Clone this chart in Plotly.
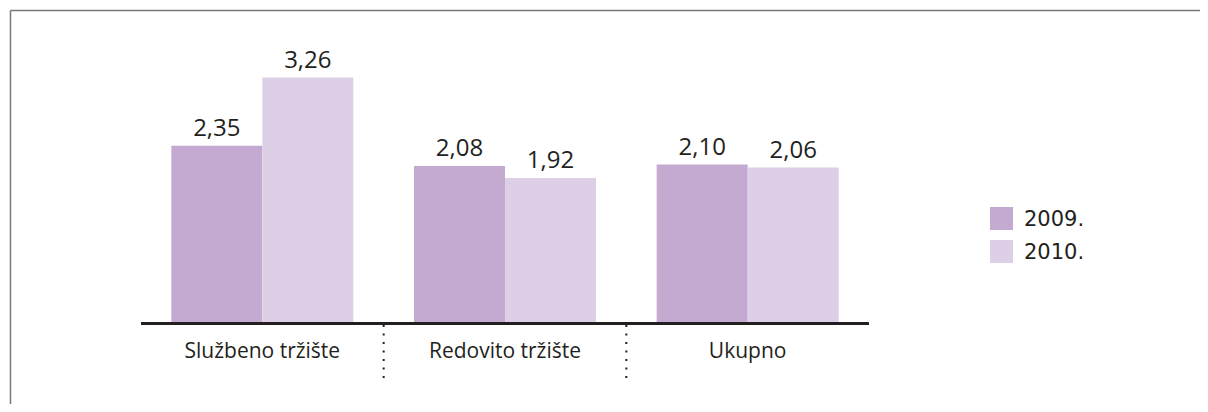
import plotly.graph_objects as go

categories = ["Službeno tržište", "Redovito tržište", "Ukupno"]
series_names = ["2009.", "2010."]
values_2009 = [2.35, 2.08, 2.10]
values_2010 = [3.26, 1.92, 2.06]
colors = ["#c4a9d0", "#ddcfe6"]

# page has an 8px body margin; work in screen pixels and convert
OFF = 8
W, H = 1208 - 2 * OFF, 412 - 2 * OFF
plot_left_s, plot_right_s, base_s, top_s = 141, 869, 322, 30
ml = plot_left_s - OFF
mr = W - (plot_right_s - OFF)
mb = H - (base_s - OFF)
mt = top_s - OFF
pw, ph = W - ml - mr, H - mt - mb
px_per_unit = 75.0
ymax = ph / px_per_unit

font_main = "Open Sans"
txt_color = "#231f20"

fig = go.Figure()
for name, vals, col in zip(series_names, [values_2009, values_2010], colors):
    fig.add_trace(go.Bar(
        x=categories, y=vals, name=name, marker=dict(color=col, line=dict(width=0)),
        texttemplate="%{y:.2f}", textposition="outside", cliponaxis=False,
        textfont=dict(family=font_main, size=24, color=txt_color),
        showlegend=False,
    ))

def sx(px):  # screen x -> paper
    return (px - OFF - ml) / pw

def sy(py):  # screen y -> paper
    return (H - mb - (py - OFF)) / ph

shapes = []
# frame (top and left)
shapes.append(dict(type="line", xref="paper", yref="paper",
                   x0=sx(10.5), x1=sx(1220), y0=sy(10.5), y1=sy(10.5),
                   line=dict(color="#777777", width=1.5)))
shapes.append(dict(type="line", xref="paper", yref="paper",
                   x0=sx(10.5), x1=sx(10.5), y0=sy(10.5), y1=sy(430),
                   line=dict(color="#777777", width=1.5)))
# dotted separators between categories
for i in range(len(categories) - 1):
    shapes.append(dict(type="line", xref="x", yref="paper",
                       x0=i + 0.5, x1=i + 0.5, y0=sy(325), y1=sy(382),
                       line=dict(color=txt_color, width=2, dash="2px,6.5px")))

annotations = []
# manual legend
leg_x0, leg_sz = 990, 23
leg_ys = [207, 240]
for name, col, ly in zip(series_names, colors, leg_ys):
    shapes.append(dict(type="rect", xref="paper", yref="paper",
                       x0=sx(leg_x0), x1=sx(leg_x0 + leg_sz),
                       y0=sy(ly), y1=sy(ly + leg_sz),
                       fillcolor=col, line=dict(width=0)))
    annotations.append(dict(xref="paper", yref="paper", x=sx(1022), y=sy(ly + leg_sz / 2),
                            text=name, showarrow=False, xanchor="left", yanchor="middle",
                            font=dict(family="DejaVu Sans", size=21, color=txt_color)))

fig.update_layout(
    width=W, height=H,
    margin=dict(l=ml, r=mr, t=mt, b=mb),
    paper_bgcolor="white", plot_bgcolor="white",
    barmode="group", bargap=0.25, bargroupgap=0,
    separators=",.",
    xaxis=dict(showline=True, linecolor=txt_color, linewidth=2.5, ticks="", showgrid=False,
               range=[-0.5, 2.5], fixedrange=True,
               tickfont=dict(family=font_main, size=21, color=txt_color), ticklabelstandoff=8),
    yaxis=dict(visible=False, range=[0, ymax], showgrid=False, zeroline=False),
    shapes=shapes, annotations=annotations,
    showlegend=False,
)

fig.write_html("out.html")
